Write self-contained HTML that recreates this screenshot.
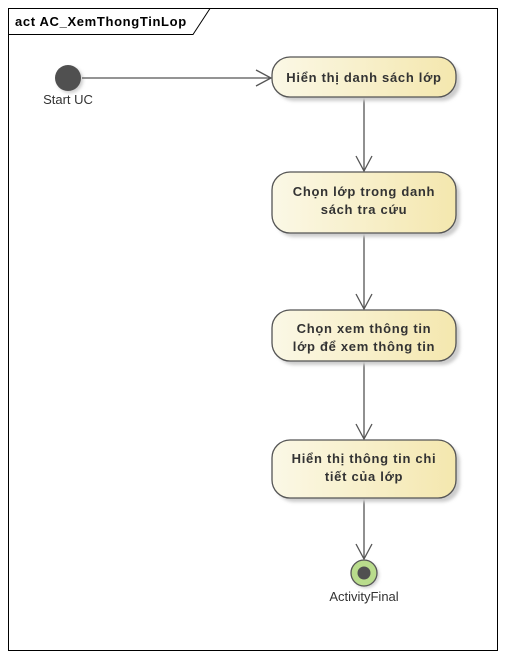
<!DOCTYPE html>
<html><head><style>body{margin:0;background:#fff}</style></head><body>
<svg width="506" height="660" xmlns="http://www.w3.org/2000/svg" font-family="Liberation Sans, DejaVu Sans, sans-serif">
<defs>
<linearGradient id="g" x1="0" y1="0" x2="1" y2="0"><stop offset="0" stop-color="#fbf8e6"/><stop offset="1" stop-color="#f4e7ae"/></linearGradient>
<filter id="s"><feGaussianBlur stdDeviation="1.5"/></filter>
</defs>
<rect x="8.5" y="8.5" width="489" height="642" fill="#fff" stroke="#000"/>
<path d="M8.5 34.5 H193 L210 8.5" fill="none" stroke="#000"/>
<text x="15" y="26" font-size="13" font-weight="bold" letter-spacing="0.65">act AC_XemThongTinLop</text>
<circle cx="70" cy="80" r="13" fill="#ccc" filter="url(#s)"/>
<circle cx="68" cy="78" r="13" fill="#505050"/>
<text x="68" y="104" font-size="13" text-anchor="middle" fill="#333">Start UC</text>
<g stroke="#555" stroke-width="1.3" fill="none">
<line x1="82" y1="78" x2="271" y2="78"/><path d="M256 70 L271 78 L256 86"/>
<line x1="364" y1="98" x2="364" y2="171"/><path d="M356 156 L364 171 L372 156"/>
<line x1="364" y1="234" x2="364" y2="309"/><path d="M356 294 L364 309 L372 294"/>
<line x1="364" y1="362" x2="364" y2="439"/><path d="M356 424 L364 439 L372 424"/>
<line x1="364" y1="499" x2="364" y2="559"/><path d="M356 544 L364 559 L372 544"/>
</g>
<g fill="#ccc" filter="url(#s)">
<rect x="276" y="61" width="184" height="40" rx="18"/>
<rect x="276" y="176" width="184" height="61" rx="18"/>
<rect x="276" y="314" width="184" height="51" rx="18"/>
<rect x="276" y="444" width="184" height="58" rx="18"/>
</g>
<g fill="url(#g)" stroke="#555" stroke-width="1.3">
<rect x="272" y="57" width="184" height="40" rx="18"/>
<rect x="272" y="172" width="184" height="61" rx="18"/>
<rect x="272" y="310" width="184" height="51" rx="18"/>
<rect x="272" y="440" width="184" height="58" rx="18"/>
</g>
<g font-size="13" font-weight="bold" text-anchor="middle" fill="#333" letter-spacing="0.7">
<text x="364" y="82">Hiển thị danh sách lớp</text>
<text x="364" y="196">Chọn lớp trong danh</text><text x="364" y="214">sách tra cứu</text>
<text x="364" y="333">Chọn xem thông tin</text><text x="364" y="351">lớp để xem thông tin</text>
<text x="364" y="463">Hiển thị thông tin chi</text><text x="364" y="481">tiết của lớp</text>
</g>
<circle cx="366" cy="575" r="13" fill="#ccc" filter="url(#s)"/>
<circle cx="364" cy="573" r="13" fill="#b9dc8c" stroke="#555" stroke-width="1.3"/>
<circle cx="364" cy="573" r="6.5" fill="#505050"/>
<text x="364" y="601" font-size="13" text-anchor="middle" fill="#333">ActivityFinal</text>
</svg>
</body></html>
